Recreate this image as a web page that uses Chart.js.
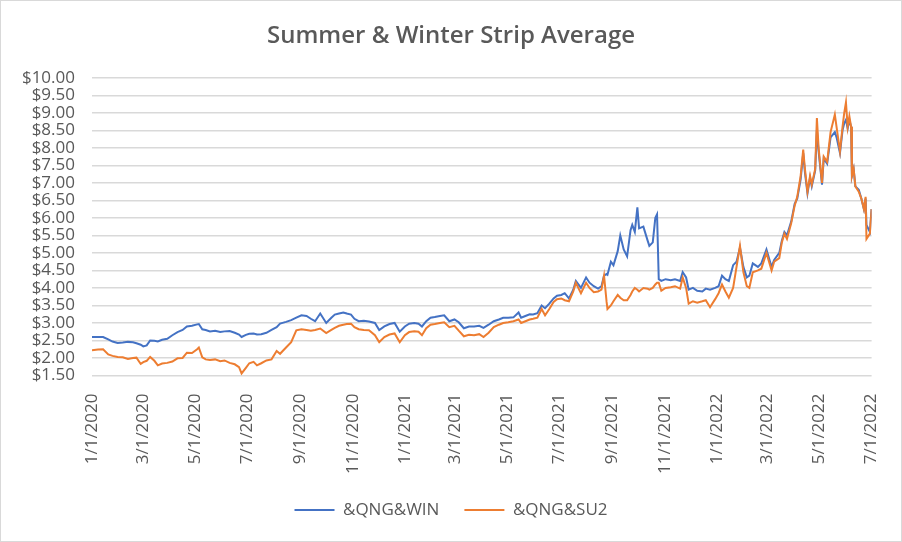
<!DOCTYPE html>
<html>
<head>
<meta charset="utf-8">
<title>Summer & Winter Strip Average</title>
<script src="https://cdn.jsdelivr.net/npm/chart.js@4.4.0/dist/chart.umd.min.js"></script>
<style>
  html, body { margin: 0; padding: 0; background: #fff; }
  #wrap { width: 902px; height: 542px; }
</style>
</head>
<body>
<div id="wrap"><canvas id="stripChart" width="902" height="542"></canvas></div>
<script>
const dates = [
  '2020-01-01','2020-01-08','2020-01-14','2020-01-20','2020-01-25','2020-01-31','2020-02-06','2020-02-12',
  '2020-02-18','2020-02-22','2020-02-27','2020-03-01','2020-03-05','2020-03-09','2020-03-14','2020-03-18',
  '2020-03-23','2020-03-29','2020-04-04','2020-04-10','2020-04-16','2020-04-21','2020-04-27','2020-05-03',
  '2020-05-05','2020-05-09','2020-05-13','2020-05-18','2020-05-24','2020-05-30','2020-06-04','2020-06-10',
  '2020-06-16','2020-06-21','2020-06-24','2020-06-29','2020-07-03','2020-07-08','2020-07-12','2020-07-17',
  '2020-07-23','2020-07-29','2020-08-04','2020-08-08','2020-08-15','2020-08-21','2020-08-27','2020-09-02',
  '2020-09-08','2020-09-13','2020-09-18','2020-09-24','2020-10-01','2020-10-07','2020-10-11','2020-10-16',
  '2020-10-21','2020-10-25','2020-10-30','2020-11-03','2020-11-08','2020-11-14','2020-11-20','2020-11-27',
  '2020-12-02','2020-12-08','2020-12-14','2020-12-20','2020-12-26',
  '2021-01-01','2021-01-06','2021-01-12','2021-01-17','2021-01-21','2021-01-26','2021-01-31','2021-02-05',
  '2021-02-11','2021-02-16','2021-02-22','2021-02-28','2021-03-05','2021-03-11','2021-03-17','2021-03-23',
  '2021-03-29','2021-04-03','2021-04-09','2021-04-15','2021-04-21','2021-04-26','2021-05-02','2021-05-08',
  '2021-05-14','2021-05-17','2021-05-22','2021-05-27','2021-05-31','2021-06-05','2021-06-10','2021-06-14',
  '2021-06-19','2021-06-24','2021-06-28','2021-07-03','2021-07-07','2021-07-12','2021-07-17','2021-07-20',
  '2021-07-26','2021-08-01','2021-08-05','2021-08-10','2021-08-15','2021-08-19','2021-08-22','2021-08-25',
  '2021-08-26','2021-08-30','2021-09-02','2021-09-07','2021-09-10','2021-09-14','2021-09-18','2021-09-22',
  '2021-09-24','2021-09-27','2021-09-30','2021-10-02','2021-10-07','2021-10-12','2021-10-14','2021-10-18',
  '2021-10-21','2021-10-23','2021-10-25','2021-10-28','2021-11-02','2021-11-08','2021-11-13','2021-11-19',
  '2021-11-22','2021-11-26','2021-11-29','2021-12-04','2021-12-09','2021-12-15','2021-12-19','2021-12-24',
  '2021-12-30',
  '2022-01-03','2022-01-07','2022-01-11','2022-01-15','2022-01-20','2022-01-24','2022-01-28','2022-02-01',
  '2022-02-05','2022-02-08','2022-02-12','2022-02-18','2022-02-22','2022-02-28','2022-03-06','2022-03-09',
  '2022-03-15','2022-03-18','2022-03-21','2022-03-24','2022-03-29','2022-04-02','2022-04-05','2022-04-09',
  '2022-04-12','2022-04-14','2022-04-17','2022-04-20','2022-04-22','2022-04-26','2022-04-28','2022-04-30',
  '2022-05-04','2022-05-06','2022-05-10','2022-05-14','2022-05-19','2022-05-21','2022-05-25','2022-05-28',
  '2022-05-30','2022-06-01','2022-06-03','2022-06-05','2022-06-07','2022-06-08','2022-06-10','2022-06-12',
  '2022-06-16','2022-06-19','2022-06-22','2022-06-24','2022-06-25','2022-06-29','2022-07-01'
];

// &QNG&WIN
const winStrip = [
  2.60,2.60,2.60,2.53,2.47,2.43,2.44,2.46,
  2.45,2.42,2.38,2.33,2.36,2.50,2.49,2.47,
  2.52,2.55,2.65,2.74,2.80,2.90,2.92,2.96,
  2.97,2.82,2.80,2.76,2.78,2.74,2.76,2.77,
  2.72,2.67,2.60,2.66,2.69,2.70,2.67,2.68,
  2.72,2.80,2.88,2.98,3.03,3.08,3.15,3.22,
  3.20,3.12,3.05,3.27,3.00,3.15,3.24,3.27,
  3.30,3.27,3.24,3.12,3.05,3.06,3.04,3.00,
  2.80,2.90,2.97,3.00,2.75,
  2.90,2.98,3.00,2.98,2.90,3.05,3.15,3.17,
  3.20,3.22,3.05,3.10,3.02,2.85,2.90,2.90,
  2.92,2.86,2.95,3.05,3.10,3.15,3.15,3.16,
  3.30,3.15,3.20,3.25,3.24,3.28,3.50,3.42,
  3.55,3.70,3.78,3.80,3.85,3.70,3.95,4.20,
  4.00,4.30,4.15,4.05,3.98,4.05,4.35,4.40,
  4.38,4.75,4.65,5.05,5.50,5.10,4.90,5.65,
  5.80,5.60,6.30,5.70,5.75,5.35,5.20,5.30,
  6.00,6.10,4.25,4.20,4.25,4.22,4.25,4.20,
  4.45,4.30,3.95,4.00,3.92,3.90,3.98,3.95,
  4.00,
  4.05,4.35,4.25,4.20,4.65,4.75,5.15,4.60,
  4.30,4.35,4.70,4.60,4.70,5.10,4.60,4.80,
  5.00,5.35,5.60,5.50,5.90,6.40,6.55,7.10,
  7.85,7.30,6.70,7.15,6.90,7.35,8.50,7.90,
  6.95,7.70,7.55,8.30,8.45,8.30,7.85,8.50,
  8.70,8.80,8.55,8.80,8.60,7.20,7.40,6.90,
  6.80,6.55,6.25,6.55,5.80,5.60,6.25
];

// &QNG&SU2
const su2Strip = [
  2.22,2.24,2.25,2.10,2.06,2.03,2.02,1.97,
  2.00,2.01,1.83,1.88,1.92,2.03,1.92,1.79,
  1.84,1.86,1.90,1.99,2.00,2.15,2.14,2.25,
  2.30,2.02,1.96,1.94,1.96,1.91,1.93,1.86,
  1.82,1.74,1.56,1.72,1.85,1.89,1.79,1.85,
  1.93,1.96,2.20,2.12,2.30,2.45,2.79,2.82,
  2.80,2.78,2.80,2.84,2.71,2.80,2.86,2.92,
  2.95,2.97,2.98,2.88,2.82,2.80,2.79,2.65,
  2.45,2.60,2.67,2.70,2.45,
  2.65,2.74,2.76,2.75,2.65,2.85,2.95,2.97,
  3.00,3.02,2.88,2.92,2.78,2.62,2.66,2.65,
  2.68,2.60,2.72,2.88,2.95,3.00,3.02,3.05,
  3.10,3.00,3.05,3.10,3.12,3.15,3.40,3.22,
  3.40,3.60,3.68,3.70,3.65,3.62,3.90,4.15,
  3.85,4.15,4.00,3.88,3.90,3.95,4.35,3.60,
  3.40,3.50,3.62,3.80,3.72,3.65,3.65,3.80,
  3.90,4.00,3.95,3.90,4.00,3.98,3.95,4.00,
  4.10,4.15,4.15,3.92,4.00,4.02,4.05,3.98,
  4.30,4.00,3.55,3.62,3.58,3.62,3.65,3.45,
  3.68,
  3.85,4.10,3.90,3.72,4.00,4.60,5.20,4.45,
  4.05,4.00,4.45,4.50,4.55,5.00,4.50,4.75,
  4.85,5.30,5.55,5.40,5.85,6.35,6.60,7.20,
  7.95,7.40,6.75,7.20,6.95,7.40,8.85,8.00,
  7.00,7.75,7.60,8.45,8.95,8.60,7.90,8.60,
  9.00,9.30,8.60,8.90,8.60,7.20,7.40,6.90,
  6.75,6.55,6.25,6.60,5.40,5.55,6.25
];

const tickLabels = [
  '1/1/2020','3/1/2020','5/1/2020','7/1/2020','9/1/2020','11/1/2020',
  '1/1/2021','3/1/2021','5/1/2021','7/1/2021','9/1/2021','11/1/2021',
  '1/1/2022','3/1/2022','5/1/2022','7/1/2022'
];

const textColor = '#595959';
const gridColor = '#d9d9d9';
const baseFont = 'Open Sans';

// days since 1/1/2020
const origin = Date.UTC(2020, 0, 1);
function isoToDay(s) {
  const [y, m, d] = s.split('-').map(Number);
  return Math.round((Date.UTC(y, m - 1, d) - origin) / 864e5);
}
function mdyToDay(s) {
  const [m, d, y] = s.split('/').map(Number);
  return Math.round((Date.UTC(y, m - 1, d) - origin) / 864e5);
}
const tickDays = tickLabels.map(mdyToDay);

const winData = dates.map((d, i) => ({ x: isoToDay(d), y: winStrip[i] }));
const su2Data = dates.map((d, i) => ({ x: isoToDay(d), y: su2Strip[i] }));

// white background + thin frame like the Excel chart area
const chartFrame = {
  id: 'chartFrame',
  beforeDraw(chart) {
    const c = chart.ctx;
    c.save();
    c.fillStyle = '#fff';
    c.fillRect(0, 0, chart.width, chart.height);
    c.strokeStyle = gridColor;
    c.lineWidth = 1;
    c.strokeRect(0.5, 0.5, chart.width - 1, chart.height - 1);
    c.restore();
  }
};

const ctx = document.getElementById('stripChart').getContext('2d');

const stripChart = new Chart(ctx, {
  type: 'line',
  data: {
    datasets: [{
      label: '&QNG&WIN',
      data: winData,
      borderColor: '#4472C4',
      backgroundColor: '#4472C4',
      borderWidth: 2,
      pointRadius: 0,
      tension: 0,
      order: 1
    }, {
      label: '&QNG&SU2',
      data: su2Data,
      borderColor: '#ED7D31',
      backgroundColor: '#ED7D31',
      borderWidth: 2,
      pointRadius: 0,
      tension: 0,
      order: 0
    }]
  },
  options: {
    responsive: false,
    animation: false,
    layout: { padding: { left: 0, right: 0, top: 0, bottom: 13.5 } },
    plugins: {
      title: {
        display: true,
        text: 'Summer & Winter Strip Average',
        color: textColor,
        font: { family: baseFont, size: 24, weight: '600' },
        padding: { top: 22, bottom: 27 }
      },
      legend: {
        position: 'bottom',
        labels: {
          usePointStyle: true,
          pointStyle: 'line',
          pointStyleWidth: 40,
          padding: 25,
          color: textColor,
          font: { family: baseFont, size: 17 },
          sort: (a, b) => a.datasetIndex - b.datasetIndex
        }
      },
      tooltip: { enabled: false }
    },
    scales: {
      x: {
        type: 'linear',
        min: 0,
        max: tickDays[tickDays.length - 1],
        afterBuildTicks: s => { s.ticks = tickDays.map(v => ({ value: v })); },
        afterFit: s => { s.height = 101; },
        grid: { display: false },
        border: { display: false },
        ticks: {
          autoSkip: false,
          minRotation: 90,
          maxRotation: 90,
          padding: 10,
          color: textColor,
          font: { family: baseFont, size: 17 },
          callback: v => tickLabels[tickDays.indexOf(v)] || ''
        }
      },
      y: {
        min: 1.5,
        max: 10,
        afterFit: s => { s.width = 92; },
        grid: { color: gridColor, lineWidth: 1.5, drawTicks: false },
        border: { display: false },
        ticks: {
          autoSkip: false,
          stepSize: 0.5,
          padding: 17,
          color: textColor,
          font: { family: baseFont, size: 17 },
          callback: v => '$' + v.toFixed(2)
        }
      },
      // empty right strip so the plot stops where Excel's does
      yRight: {
        type: 'linear',
        position: 'right',
        afterFit: s => { s.width = 24; },
        grid: { display: false },
        border: { display: false },
        ticks: { display: false }
      }
    }
  },
  plugins: [chartFrame]
});
</script>
</body>
</html>
